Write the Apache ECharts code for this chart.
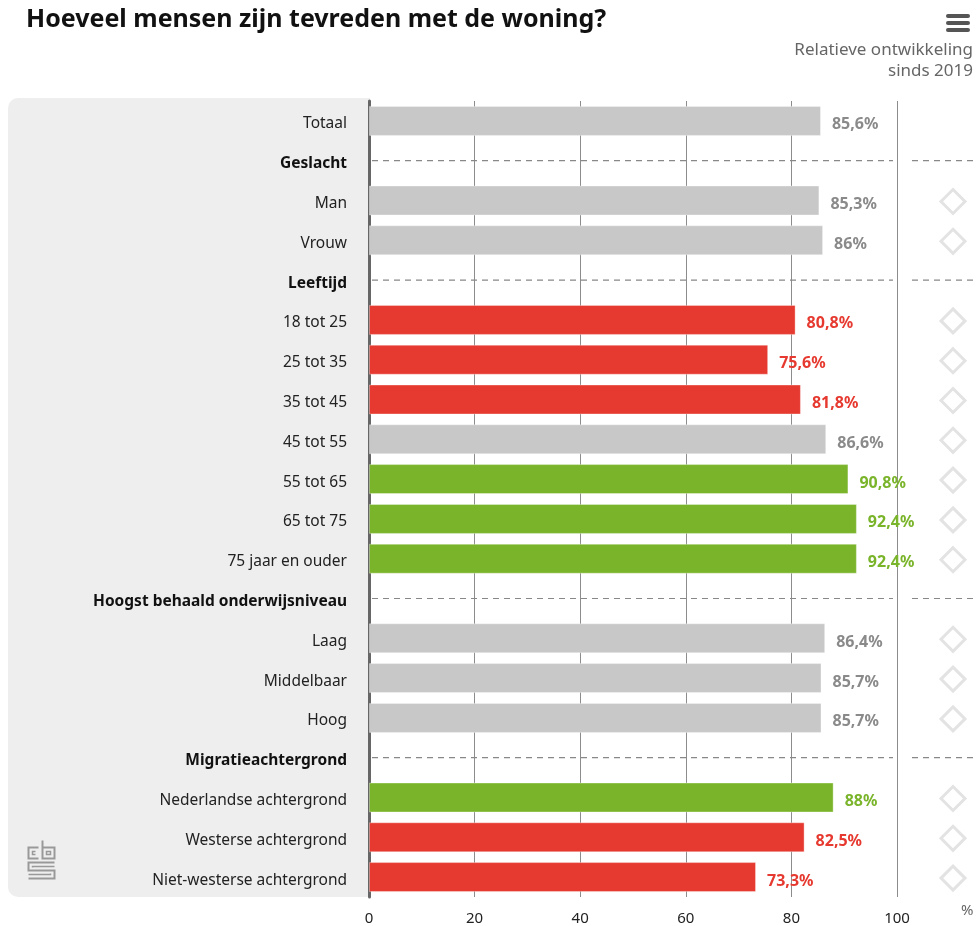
<!DOCTYPE html>
<html>
<head>
<meta charset="utf-8">
<script src="https://cdn.jsdelivr.net/npm/echarts@6/dist/echarts.min.js"></script>
<style>
  html, body { margin: 0; padding: 0; background: #fff; }
  #chart { width: 978px; height: 926px; }
</style>
</head>
<body>
<div id="chart"></div>
<script>
// rijen van boven naar beneden
var categories = ['Totaal', 'Geslacht', 'Man', 'Vrouw', 'Leeftijd', '18 tot 25', '25 tot 35', '35 tot 45',
  '45 tot 55', '55 tot 65', '65 tot 75', '75 jaar en ouder', 'Hoogst behaald onderwijsniveau',
  'Laag', 'Middelbaar', 'Hoog', 'Migratieachtergrond', 'Nederlandse achtergrond',
  'Westerse achtergrond', 'Niet-westerse achtergrond'];
var tevreden = [85.6, null, 85.3, 86, null, 80.8, 75.6, 81.8, 86.6, 90.8, 92.4, 92.4, null,
  86.4, 85.7, 85.7, null, 88, 82.5, 73.3];
// 0 = gelijk, -1 = lager, 1 = hoger dan totaal
var afwijking = [0, null, 0, 0, null, -1, -1, -1, 0, 1, 1, 1, null, 0, 0, 0, null, 1, -1, -1];
var kopRijen = ['Geslacht', 'Leeftijd', 'Hoogst behaald onderwijsniveau', 'Migratieachtergrond'];
var ontwikkelingRijen = ['Man', 'Vrouw', '18 tot 25', '25 tot 35', '35 tot 45', '45 tot 55', '55 tot 65',
  '65 tot 75', '75 jaar en ouder', 'Laag', 'Middelbaar', 'Hoog', 'Nederlandse achtergrond',
  'Westerse achtergrond', 'Niet-westerse achtergrond'];
var xTicks = [0, 20, 40, 60, 80, 100];

var kleuren = { '-1': '#e6392f', '0': '#c8c8c8', '1': '#7ab42a' };
var labelKleuren = { '-1': '#e6392f', '0': '#8a8a8a', '1': '#7ab42a' };
var font = 'Noto Sans';

var barData = tevreden.map(function (v, i) {
  if (v == null) return null;
  var k = String(afwijking[i]);
  return {
    value: v,
    itemStyle: { color: kleuren[k] },
    label: { color: labelKleuren[k] }
  };
});

var chart = echarts.init(document.getElementById('chart'));
var option = {
  animation: false,
  backgroundColor: '#fff',
  title: {
    text: 'Hoeveel mensen zijn tevreden met de woning?',
    left: 21, top: 2,
    textStyle: { fontFamily: font, fontSize: 25, fontWeight: 'bold', color: '#111' }
  },
  graphic: [
    // grijs vlak achter de labels
    { type: 'rect', z: -10, shape: { x: 8, y: 98, width: 362, height: 799, r: [10, 0, 0, 10] },
      style: { fill: '#eeeeee' } },
    { type: 'text', right: 5, top: 42, style: { text: 'Relatieve ontwikkeling', fill: '#666',
      font: '17px "Noto Sans"', textAlign: 'right' } },
    { type: 'text', right: 5, top: 63, style: { text: 'sinds 2019', fill: '#666',
      font: '17px "Noto Sans"', textAlign: 'right' } },
    { type: 'text', left: 961, top: 903, style: { text: '%', fill: '#666', font: '15px "Noto Sans"' } },
    // menu-icoon
    { type: 'rect', shape: { x: 946, y: 14, width: 24, height: 4, r: 2 }, style: { fill: '#555' } },
    { type: 'rect', shape: { x: 946, y: 21, width: 24, height: 4, r: 2 }, style: { fill: '#555' } },
    { type: 'rect', shape: { x: 946, y: 28, width: 24, height: 4, r: 2 }, style: { fill: '#555' } },
    // cbs-logo
    { type: 'group', left: 26, top: 838, children: [
      { type: 'polyline', shape: { points: [[11, 7], [1, 7], [1, 18], [11, 18]] },
        style: { stroke: '#999', lineWidth: 2, fill: null } },
      { type: 'polyline', shape: { points: [[8, 11], [5, 11], [5, 14], [8, 14]] },
        style: { stroke: '#999', lineWidth: 1.5, fill: null } },
      { type: 'polyline', shape: { points: [[15, 0], [15, 18], [27, 18], [27, 7], [15, 7]] },
        style: { stroke: '#999', lineWidth: 2, fill: null } },
      { type: 'rect', shape: { x: 19, y: 11, width: 4, height: 3 },
        style: { stroke: '#999', lineWidth: 1.5, fill: null } },
      { type: 'polyline', shape: { points: [[27, 22], [1, 22], [1, 30], [27, 30], [27, 38], [1, 38]] },
        style: { stroke: '#999', lineWidth: 2, fill: null } },
      { type: 'polyline', shape: { points: [[27, 26], [5, 26], [5, 27]] },
        style: { stroke: '#999', lineWidth: 1.5, fill: null } },
      { type: 'polyline', shape: { points: [[1, 34], [23, 34], [23, 33]] },
        style: { stroke: '#999', lineWidth: 1.5, fill: null } }
    ] }
  ],
  grid: { left: 369, right: 81, top: 101, bottom: 28, containLabel: false },
  xAxis: {
    type: 'value', min: 0, max: 100, interval: 20,
    axisLine: { show: false }, axisTick: { show: false },
    axisLabel: { margin: 14, color: '#222', fontFamily: font, fontSize: 15,
      formatter: function (v) { return xTicks.indexOf(v) >= 0 ? String(v) : ''; } },
    splitLine: { show: true, lineStyle: { color: '#8c8c8c', width: 1 } }
  },
  yAxis: {
    type: 'category', data: categories, inverse: true,
    axisLine: { show: true, lineStyle: { color: '#666', width: 3 } },
    axisTick: { show: false },
    axisLabel: {
      margin: 22, fontFamily: font, fontSize: 15.5, color: '#222', padding: [6, 0, 0, 0],
      formatter: function (v) { return kopRijen.indexOf(v) >= 0 ? '{b|' + v + '}' : v; },
      rich: { b: { fontFamily: font, fontSize: 15.5, fontWeight: 'bold', color: '#111' } }
    }
  },
  series: [
    {
      type: 'custom', z: 1, silent: true,
      data: kopRijen.map(function (c) { return [0, categories.indexOf(c)]; }),
      renderItem: function (params, api) {
        var p0 = api.coord([0, api.value(1)]);
        var p100 = api.coord([100, api.value(1)]);
        var st = { stroke: '#888', lineWidth: 1.2, lineDash: [6, 5] };
        return { type: 'group', children: [
          { type: 'line', shape: { x1: p0[0] + 3, y1: p0[1], x2: p100[0] - 4, y2: p0[1] }, style: st },
          { type: 'line', shape: { x1: p100[0] + 15, y1: p0[1], x2: api.getWidth(), y2: p0[1] }, style: st }
        ] };
      }
    },
    {
      type: 'bar', z: 3, barWidth: 30, data: barData,
      itemStyle: { borderColor: 'rgba(255,255,255,0.35)', borderWidth: 1 },
      label: {
        show: true, position: 'right', distance: 11, offset: [0, 4],
        fontFamily: font, fontSize: 16, fontWeight: 'bold',
        formatter: function (p) { return String(p.value).replace('.', ',') + '%'; }
      }
    },
    {
      type: 'custom', z: 2, silent: true,
      data: ontwikkelingRijen.map(function (c) { return [0, categories.indexOf(c)]; }),
      renderItem: function (params, api) {
        var p = api.coord([100, api.value(1)]);
        var cx = p[0] + 56, cy = p[1] + 1, h = 12;
        return { type: 'polygon', shape: { points: [[cx, cy - h], [cx + h, cy], [cx, cy + h], [cx - h, cy]] },
          style: { stroke: '#e3e3e3', lineWidth: 3, fill: null } };
      }
    }
  ]
};
chart.setOption(option);
</script>
</body>
</html>
